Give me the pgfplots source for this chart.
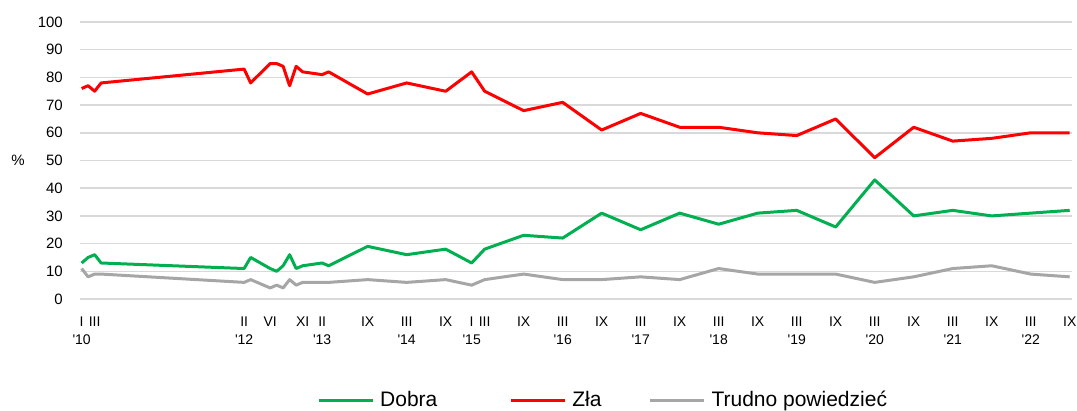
\documentclass[border=0pt]{standalone}
\usepackage{pgfplots}
\pgfplotsset{compat=1.18}
\usepackage{fontspec}
\setmainfont{Liberation Sans}[Ligatures=TeXOff]
\definecolor{cgreen}{HTML}{00B050}
\definecolor{cred}{HTML}{FF0000}
\definecolor{cgray}{HTML}{A6A6A6}
\definecolor{cgrid}{HTML}{D9D9D9}
\begin{document}
\begin{tikzpicture}
\begin{axis}[
  name=ax,
  scale only axis,
  width=992pt, height=277pt,
  xmin=-0.25, xmax=152.35,
  ymin=0, ymax=100,
  ytick={0,10,...,100},
  ymajorgrids,
  major grid style={draw=cgrid, line width=1.5pt},
  axis line style={draw=none},
  major tick length=0pt,
  /pgf/number format/assume math mode=true,
  yticklabel style={font=\fontsize{15}{18}\selectfont, inner sep=0pt, xshift=-17pt, anchor=east},
  xtick={0,2,25,29,34,37,44,50,56,60,62,68,74,80,86,92,98,104,110,116,122,128,134,140,146,152},
  xticklabels={{I\\'10},III,{II\\'12},VI,XI,{II\\'13},IX,{III\\'14},IX,{I\\'15},III,IX,{III\\'16},IX,{III\\'17},IX,{III\\'18},IX,{III\\'19},IX,{III\\'20},IX,{III\\'21},IX,{III\\'22},IX},
  xticklabel style={font=\fontsize{14}{18}\selectfont, align=center, inner sep=0pt, anchor=north, yshift=-17.5pt},
  ylabel={\%},
  every axis y label/.style={at={(rel axis cs:0,0.5)}, anchor=center, xshift=-62pt, font=\fontsize{15}{18}\selectfont},
  legend columns=3,
  legend style={draw=none, fill=none, inner sep=0pt, at={([xshift=237pt,yshift=-101pt]rel axis cs:0,0)}, anchor=west,
    font=\fontsize{21}{24}\selectfont, column sep=0pt,
    nodes={inner sep=0pt},
    /tikz/every odd column/.style={column sep=6pt},
    /tikz/column 2/.style={column sep=72pt},
    /tikz/column 4/.style={column sep=47pt}},
  legend image code/.code={\draw[#1] (0pt,0pt) -- (54pt,0pt);},
  every axis plot/.append style={line width=3pt, line join=round},
]
\addplot[cgreen] coordinates {
(0,13)(1,15)(2,16)(3,13)(25,11)(26,15)(29,11)(30,10)(31,12)(32,16)(33,11)(34,12)(37,13)(38,12)(44,19)(50,16)(56,18)(60,13)(62,18)(68,23)(74,22)(80,31)(86,25)(92,31)(98,27)(104,31)(110,32)(116,26)(122,43)(128,30)(134,32)(140,30)(146,31)(152,32)};
\addlegendentry{Dobra}
\addplot[cred] coordinates {
(0,76)(1,77)(2,75)(3,78)(25,83)(26,78)(29,85)(30,85)(31,84)(32,77)(33,84)(34,82)(37,81)(38,82)(44,74)(50,78)(56,75)(60,82)(62,75)(68,68)(74,71)(80,61)(86,67)(92,62)(98,62)(104,60)(110,59)(116,65)(122,51)(128,62)(134,57)(140,58)(146,60)(152,60)};
\addlegendentry{Zła}
\addplot[cgray] coordinates {
(0,11)(1,8)(2,9)(3,9)(25,6)(26,7)(29,4)(30,5)(31,4)(32,7)(33,5)(34,6)(37,6)(38,6)(44,7)(50,6)(56,7)(60,5)(62,7)(68,9)(74,7)(80,7)(86,8)(92,7)(98,11)(104,9)(110,9)(116,9)(122,6)(128,8)(134,11)(140,12)(146,9)(152,8)};
\addlegendentry{Trudno powiedzieć}
\end{axis}
\pgfresetboundingbox
\path[use as bounding box] ([shift={(-80pt,-111pt)}]ax.south west) rectangle ([shift={(5pt,22pt)}]ax.north east);
\end{tikzpicture}
\end{document}
